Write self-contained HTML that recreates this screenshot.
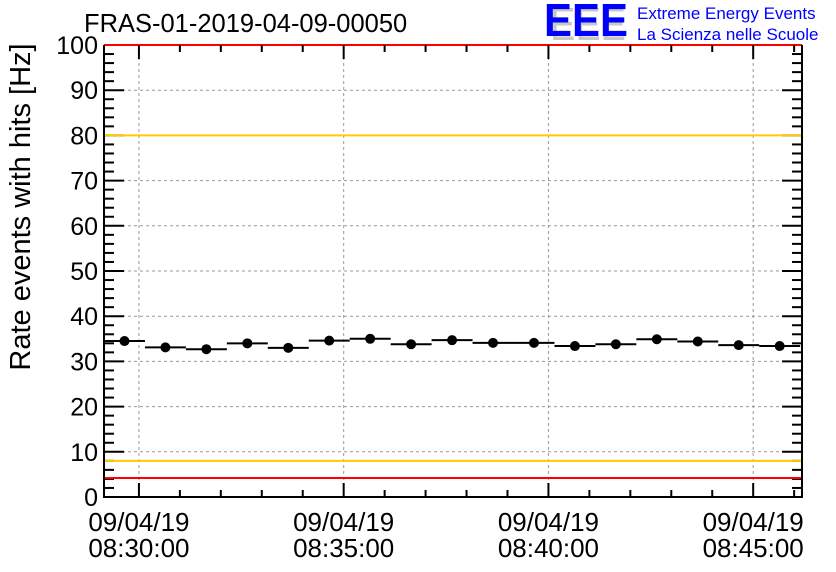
<!DOCTYPE html>
<html><head><meta charset="utf-8"><style>body{margin:0;background:#fff}svg{display:block;font-family:"Liberation Sans",sans-serif}</style></head>
<body>
<svg id="chart" width="836" height="572" viewBox="0 0 836 572">
<rect width="836" height="572" fill="#fff"/>
<g id="grid"></g>
<g id="marks"></g>
<g id="axes"></g>
<text x="84" y="32" font-size="25.5">FRAS-01-2019-04-09-00050</text>
<g>
<text x="550" y="40" font-size="46" fill="#c8c8c8" textLength="76" lengthAdjust="spacingAndGlyphs">EEE</text>
<text x="544" y="36" font-size="46" font-weight="bold" fill="#0000ff" textLength="84" lengthAdjust="spacingAndGlyphs">EEE</text>
<text x="637" y="19" font-size="17" fill="#0000ff">Extreme Energy Events</text>
<text x="637" y="40" font-size="17" fill="#0000ff">La Scienza nelle Scuole</text>
</g>
<text transform="translate(30,207) rotate(-90)" text-anchor="middle" font-size="29">Rate events with hits [Hz]</text>
<script>
const rates=[34.5,33.1,32.7,34.0,33.0,34.6,35.0,33.8,34.7,34.1,34.1,33.4,33.8,34.9,34.4,33.6,33.4];
const yTicks=[0,10,20,30,40,50,60,70,80,90,100];
const xTickMinutes=[0,5,10,15];
const xTickDate=["09/04/19","09/04/19","09/04/19","09/04/19"];
const xTickTime=["08:30:00","08:35:00","08:40:00","08:45:00"];
const refLines=[{v:80,c:"#ffcc00"},{v:8,c:"#ffcc00"},{v:4.2,c:"#ff0000"},{v:100,c:"#ff0000"}];
const L=104,R=802,T=45,B=497;
const pxPerMin=40.95, x0min=-0.853; // minutes relative to 08:30
const X=m=>L+(m-x0min)*pxPerMin;
const Y=v=>B-(v/100)*(B-T);
const NS="http://www.w3.org/2000/svg";
function mk(p,t,a){const e=document.createElementNS(NS,t);for(const k in a)e.setAttribute(k,a[k]);p.appendChild(e);return e;}
const grid=document.getElementById('grid'),marks=document.getElementById('marks'),axes=document.getElementById('axes');
yTicks.forEach(v=>{if(v>0&&v<100){const g=mk(grid,'line',{x1:L,x2:R,y1:Y(v),y2:Y(v),stroke:'#999','stroke-dasharray':'3,3','stroke-width':1});

}});
xTickMinutes.forEach(m=>{const g=mk(grid,'line',{x1:X(m),x2:X(m),y1:T,y2:B,stroke:'#999','stroke-dasharray':'3,3','stroke-width':1});

});
for(let v=0;v<=100;v+=2){const len=v%10===0?20:10;
mk(axes,'line',{x1:L,x2:L+len,y1:Y(v),y2:Y(v),stroke:'#000','stroke-width':2});
mk(axes,'line',{x1:R,x2:R-len,y1:Y(v),y2:Y(v),stroke:'#000','stroke-width':2});}
refLines.forEach(r=>{const l=mk(axes,'line',{x1:L,x2:R,y1:Y(r.v),y2:Y(r.v),stroke:r.c,'stroke-width':2});

});
rates.forEach((v,i)=>{const a=x0min+i,b=a+1;
const l=mk(marks,'line',{x1:X(a),x2:X(b),y1:Y(v),y2:Y(v),stroke:'#000','stroke-width':2});


const c=mk(marks,'circle',{cx:X(a+0.5),cy:Y(v),r:5,fill:'#000'});

});
mk(axes,'path',{d:`M${L} ${T}V${B}H${R}V${T}`,fill:'none',stroke:'#000','stroke-width':2});
yTicks.forEach(v=>{const t=mk(axes,'text',{x:98,y:Y(v)+9,'text-anchor':'end','font-size':25});t.textContent=v;

});
for(let m=0;m<=16;m++){const x=X(m);if(x>R)break;const len=m%5===0?14:7;
mk(axes,'line',{x1:x,x2:x,y1:B,y2:B-len,stroke:'#000','stroke-width':2});
mk(axes,'line',{x1:x,x2:x,y1:T,y2:T+len,stroke:'#000','stroke-width':2});}
xTickMinutes.forEach((m,i)=>{const t1=mk(axes,'text',{x:X(m),y:531,'text-anchor':'middle','font-size':26});t1.textContent=xTickDate[i];


const t2=mk(axes,'text',{x:X(m),y:557,'text-anchor':'middle','font-size':26});t2.textContent=xTickTime[i];

});
</script>
</svg>
</body></html>
